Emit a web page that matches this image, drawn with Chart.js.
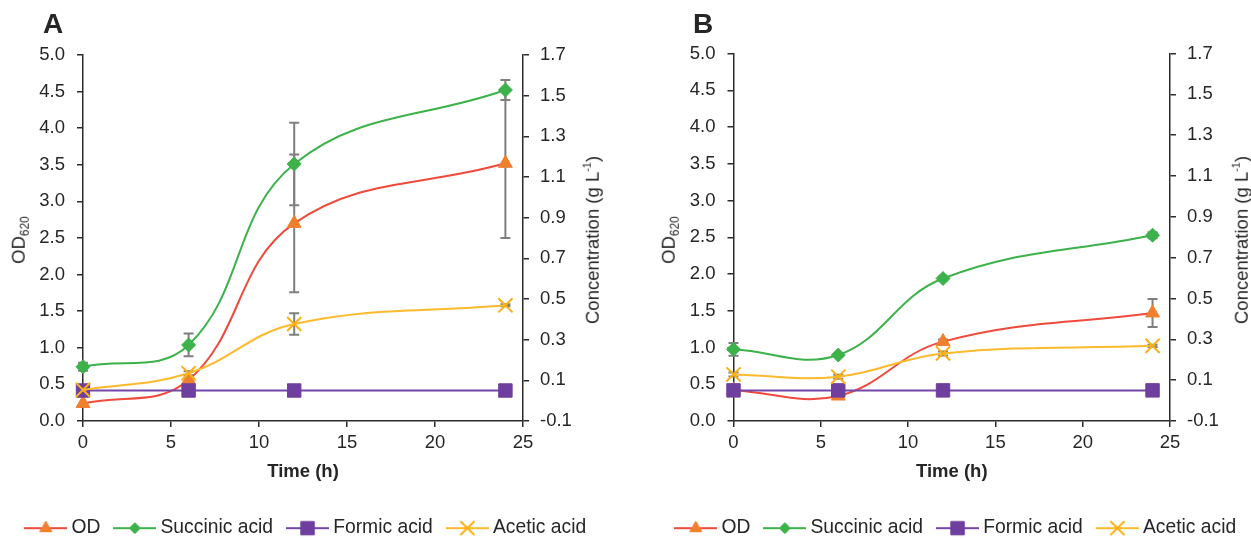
<!DOCTYPE html>
<html><head><meta charset="utf-8">
<script src="https://cdn.jsdelivr.net/npm/chart.js@4.4.0/dist/chart.umd.min.js"></script>
<style>
html,body{margin:0;padding:0;background:#fff;overflow:hidden;width:1251px;height:540px;}
.panel{position:absolute;top:0;width:616px;height:540px;}
.panel canvas{position:absolute;left:0;top:0;}
.lbl{position:absolute;font-family:"Liberation Sans",Arial,sans-serif;color:#262626;white-space:nowrap;line-height:1;}
.letter{font-weight:bold;font-size:28px;transform:translate(-50%,-50%);}
.ytitle{font-size:18.5px;transform:translate(-50%,-50%) rotate(-90deg);}
.ytitle sub{font-size:12px;vertical-align:-4px;line-height:0;}
.ytitle sup{font-size:11px;vertical-align:8px;line-height:0;}
</style></head><body>
<div class="panel" style="left:0px">
  <canvas id="cA" width="616" height="540" style="width:616px;height:540px"></canvas>
  <div class="lbl letter" style="left:53px;top:24px">A</div>
  <div class="lbl ytitle" style="left:19px;top:240px">OD<sub>620</sub></div>
  <div class="lbl ytitle" style="left:593px;top:240px">Concentration (g L<sup>-1</sup>)</div>
</div>
<div class="panel" style="left:650px">
  <canvas id="cB" width="616" height="540" style="width:616px;height:540px"></canvas>
  <div class="lbl letter" style="left:53px;top:24px">B</div>
  <div class="lbl ytitle" style="left:19px;top:240px">OD<sub>620</sub></div>
  <div class="lbl ytitle" style="left:592px;top:240px">Concentration (g L<sup>-1</sup>)</div>
</div>
<script>
// ---- data ----
const timeH = [0, 6, 12, 24];
const seriesNames = ['OD', 'Succinic acid', 'Formic acid', 'Acetic acid'];
const xTicks = [0, 5, 10, 15, 20, 25];
const leftTicks = [0.0, 0.5, 1.0, 1.5, 2.0, 2.5, 3.0, 3.5, 4.0, 4.5, 5.0];
const rightTicks = [-0.1, 0.1, 0.3, 0.5, 0.7, 0.9, 1.1, 1.3, 1.5, 1.7];

// Panel A
const odA = [0.24, 0.56, 2.70, 3.52];
const odErrA = [0, 0.02, 0.94, 1.02];
const succinicA = [0.167, 0.274, 1.164, 1.528];
const succinicErrA = [0.02, 0.056, 0.203, 0.049];
const formicA = [0.05, 0.05, 0.05, 0.05];
const aceticA = [0.053, 0.135, 0.377, 0.469];
const aceticErrA = [0, 0.01, 0.053, 0.005];

// Panel B
const odB = [0.42, 0.34, 1.08, 1.47];
const odErrB = [0, 0.02, 0.03, 0.19];
const succinicB = [0.251, 0.223, 0.598, 0.81];
const succinicErrB = [0.031, 0.008, 0.01, 0.015];
const formicB = [0.05, 0.05, 0.05, 0.05];
const aceticB = [0.128, 0.117, 0.231, 0.268];
const aceticErrB = [0.01, 0.01, 0.01, 0.005];

// ---- styles ----
const FONT = '"Liberation Sans", Arial, sans-serif';
const TXT = '#262626';
const AXIS = '#2b2b2b';
const styles = [
  {line:'#EF4A3C', fill:'#F07F2E', pointStyle:'triangle', r:8, lr:7, bw:1, order:3, axis:'y'},
  {line:'#3DB14A', fill:'#3DB14A', pointStyle:'rectRot', r:7, lr:5.5, bw:1, order:2, axis:'y2'},
  {line:'#7547A8', fill:'#6E3F9E', pointStyle:'rect', r:9.5, lr:9.5, bw:1, order:1, axis:'y2'},
  {line:'#FDBA2C', fill:'#F9B115', pointStyle:'crossRot', r:10, lr:10, bw:2, order:0, axis:'y2'}
];

function makeIcon(s){
  const c = document.createElement('canvas');
  c.width = 43; c.height = 22;
  const ctx = c.getContext('2d');
  ctx.strokeStyle = s.line; ctx.lineWidth = 2;
  ctx.beginPath(); ctx.moveTo(0, 11); ctx.lineTo(43, 11); ctx.stroke();
  ctx.fillStyle = s.fill; ctx.strokeStyle = s.fill; ctx.lineWidth = s.bw;
  Chart.helpers.drawPoint(ctx, {pointStyle: s.pointStyle, radius: s.lr, rotation: 0, borderWidth: s.bw}, 21.5, 11);
  return c;
}
const icons = styles.map(makeIcon);

const errPlugin = {
  id: 'errbars',
  beforeDatasetsDraw(chart){
    const ctx = chart.ctx;
    chart.data.datasets.forEach((ds, di) => {
      if (!ds.errors) return;
      const ys = chart.scales[ds.yAxisID], xs = chart.scales.x;
      ctx.save();
      ctx.strokeStyle = '#7f7f7f'; ctx.lineWidth = 2;
      ds.data.forEach((p, i) => {
        const e = ds.errors[i]; if (!e) return;
        const x = xs.getPixelForValue(p.x);
        const y1 = ys.getPixelForValue(p.y + e), y2 = ys.getPixelForValue(p.y - e);
        ctx.beginPath();
        ctx.moveTo(x, y1); ctx.lineTo(x, y2);
        ctx.moveTo(x - 5, y1); ctx.lineTo(x + 5, y1);
        ctx.moveTo(x - 5, y2); ctx.lineTo(x + 5, y2);
        ctx.stroke();
      });
      ctx.restore();
    });
  }
};

function build(id, values, errors, geo){
  const datasets = values.map((vals, k) => {
    const s = styles[k];
    return {
      label: seriesNames[k],
      data: timeH.map((t, i) => ({x: t, y: vals[i]})),
      yAxisID: s.axis,
      borderColor: s.line,
      borderWidth: 2,
      backgroundColor: s.fill,
      pointStyle: s.pointStyle,
      pointRadius: s.r,
      pointHoverRadius: s.r,
      pointBackgroundColor: s.fill,
      pointBorderColor: s.fill,
      pointBorderWidth: s.bw,
      tension: 0.4,
      clip: false,
      order: s.order,
      errors: errors[k]
    };
  });
  const tickFont = {family: FONT, size: 18.5};
  const gridOpts = {display: true, drawOnChartArea: false, drawTicks: true, tickLength: 6, color: AXIS, lineWidth: 1.5};
  const borderOpts = {display: true, color: AXIS, width: 1.5};
  return new Chart(document.getElementById(id), {
    type: 'line',
    data: {datasets},
    plugins: [errPlugin],
    options: {
      responsive: false,
      animation: false,
      events: [],
      layout: {padding: {top: geo.top, left: 0, right: 0, bottom: 0}},
      plugins: {
        tooltip: {enabled: false},
        legend: {
          position: 'bottom',
          reverse: true,
          maxHeight: 40,
          labels: {
            usePointStyle: true,
            pointStyleWidth: 32,
            padding: 18.5,
            color: TXT,
            font: {family: FONT, size: 19.3},
            generateLabels(chart){
              const items = Chart.defaults.plugins.legend.labels.generateLabels(chart);
              items.forEach(it => { it.pointStyle = icons[it.datasetIndex]; });
              return items;
            }
          }
        }
      },
      scales: {
        x: {
          type: 'linear', min: 0, max: 25,
          afterBuildTicks: sc => { sc.ticks = xTicks.map(v => ({value: v})); },
          afterFit: sc => { sc.height = 79; },
          ticks: {font: tickFont, color: TXT, padding: 5, maxRotation: 0},
          grid: gridOpts, border: borderOpts,
          title: {display: true, text: 'Time (h)', color: TXT, font: {family: FONT, size: 18.5, weight: 'bold'}, padding: {top: 0, bottom: 17}}
        },
        y: {
          type: 'linear', position: 'left', min: 0, max: 5,
          afterBuildTicks: sc => { sc.ticks = leftTicks.map(v => ({value: v})); },
          afterFit: sc => { sc.width = geo.left; },
          ticks: {font: tickFont, color: TXT, padding: 12, callback: v => Number(v).toFixed(1)},
          grid: gridOpts, border: borderOpts
        },
        y2: {
          type: 'linear', position: 'right', min: -0.1, max: 1.7,
          afterBuildTicks: sc => { sc.ticks = rightTicks.map(v => ({value: v})); },
          afterFit: sc => { sc.width = 616 - geo.right; },
          ticks: {font: tickFont, color: TXT, padding: 11, callback: v => Number(v).toFixed(1)},
          grid: gridOpts, border: borderOpts
        }
      }
    }
  });
}

build('cA', [odA, succinicA, formicA, aceticA], [odErrA, succinicErrA, null, aceticErrA], {top: 55, left: 83, right: 523});
build('cB', [odB, succinicB, formicB, aceticB], [odErrB, succinicErrB, null, aceticErrB], {top: 53.5, left: 83.5, right: 520});
</script>
</body></html>
